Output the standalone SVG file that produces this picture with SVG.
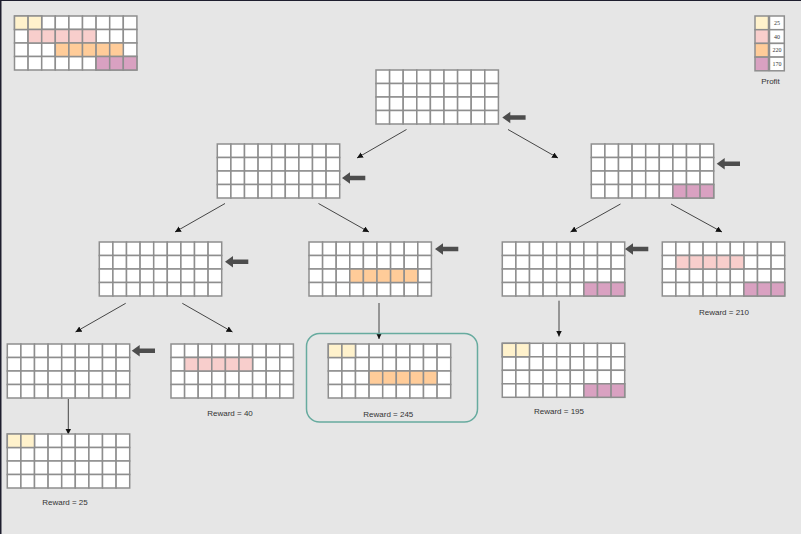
<svg xmlns="http://www.w3.org/2000/svg" xmlns:xlink="http://www.w3.org/1999/xlink" width="801" height="534" viewBox="0 0 801 534">
<style>
.c{stroke:#8e8e8e;stroke-width:1.5}
.w{fill:#ffffff}
.y{fill:#fff2cc}
.p{fill:#f8cecc}
.o{fill:#ffcc99}
.u{fill:#d9a1c1}
.lbl{font-family:"Liberation Sans",Arial,sans-serif;font-size:8px;fill:#333333;text-anchor:middle}
.num{font-family:"Liberation Serif","Times New Roman",serif;font-size:6px;fill:#333333;text-anchor:middle}
.con{stroke:#333333;stroke-width:0.9;fill:none;marker-end:url(#ah)}
.ba{fill:#4d4d4d}
</style>
<defs>
<marker id="ah" markerUnits="userSpaceOnUse" markerWidth="8" markerHeight="8" refX="6" refY="3" orient="auto">
<path d="M0,0 L6,3 L0,6 Z" fill="#111111"/>
</marker>
<polygon id="bigArrow" class="ba" points="0,0 8,-5.7 8,-2.2 23.3,-2.2 23.3,2.2 8,2.2 8,5.7"/>
<g id="grid" class="c w">
<rect x="0" y="0" width="13.6" height="13.5"/><rect x="13.6" y="0" width="13.6" height="13.5"/><rect x="27.2" y="0" width="13.6" height="13.5"/><rect x="40.8" y="0" width="13.6" height="13.5"/><rect x="54.4" y="0" width="13.6" height="13.5"/><rect x="68" y="0" width="13.6" height="13.5"/><rect x="81.6" y="0" width="13.6" height="13.5"/><rect x="95.2" y="0" width="13.6" height="13.5"/><rect x="108.8" y="0" width="13.6" height="13.5"/>
<rect x="0" y="13.5" width="13.6" height="13.5"/><rect x="13.6" y="13.5" width="13.6" height="13.5"/><rect x="27.2" y="13.5" width="13.6" height="13.5"/><rect x="40.8" y="13.5" width="13.6" height="13.5"/><rect x="54.4" y="13.5" width="13.6" height="13.5"/><rect x="68" y="13.5" width="13.6" height="13.5"/><rect x="81.6" y="13.5" width="13.6" height="13.5"/><rect x="95.2" y="13.5" width="13.6" height="13.5"/><rect x="108.8" y="13.5" width="13.6" height="13.5"/>
<rect x="0" y="27" width="13.6" height="13.5"/><rect x="13.6" y="27" width="13.6" height="13.5"/><rect x="27.2" y="27" width="13.6" height="13.5"/><rect x="40.8" y="27" width="13.6" height="13.5"/><rect x="54.4" y="27" width="13.6" height="13.5"/><rect x="68" y="27" width="13.6" height="13.5"/><rect x="81.6" y="27" width="13.6" height="13.5"/><rect x="95.2" y="27" width="13.6" height="13.5"/><rect x="108.8" y="27" width="13.6" height="13.5"/>
<rect x="0" y="40.5" width="13.6" height="13.5"/><rect x="13.6" y="40.5" width="13.6" height="13.5"/><rect x="27.2" y="40.5" width="13.6" height="13.5"/><rect x="40.8" y="40.5" width="13.6" height="13.5"/><rect x="54.4" y="40.5" width="13.6" height="13.5"/><rect x="68" y="40.5" width="13.6" height="13.5"/><rect x="81.6" y="40.5" width="13.6" height="13.5"/><rect x="95.2" y="40.5" width="13.6" height="13.5"/><rect x="108.8" y="40.5" width="13.6" height="13.5"/>
</g>
<g id="yel" class="c y"><rect x="0" y="0" width="13.6" height="13.5"/><rect x="13.6" y="0" width="13.6" height="13.5"/></g>
<g id="pnk" class="c p"><rect x="13.6" y="13.5" width="13.6" height="13.5"/><rect x="27.2" y="13.5" width="13.6" height="13.5"/><rect x="40.8" y="13.5" width="13.6" height="13.5"/><rect x="54.4" y="13.5" width="13.6" height="13.5"/><rect x="68" y="13.5" width="13.6" height="13.5"/></g>
<g id="org" class="c o"><rect x="40.8" y="27" width="13.6" height="13.5"/><rect x="54.4" y="27" width="13.6" height="13.5"/><rect x="68" y="27" width="13.6" height="13.5"/><rect x="81.6" y="27" width="13.6" height="13.5"/><rect x="95.2" y="27" width="13.6" height="13.5"/></g>
<g id="pur" class="c u"><rect x="81.6" y="40.5" width="13.6" height="13.5"/><rect x="95.2" y="40.5" width="13.6" height="13.5"/><rect x="108.8" y="40.5" width="13.6" height="13.5"/></g>
</defs>
<rect x="0" y="0" width="801" height="534" fill="#e6e6e6"/>
<line x1="0.75" y1="0" x2="0.75" y2="534" stroke="#1e1e2e" stroke-width="1.5"/>
<line x1="0" y1="0.5" x2="801" y2="0.5" stroke="#1e1e2e" stroke-width="1"/>

<g id="connectors">
<line class="con" x1="406.5" y1="129.5" x2="357" y2="158"/>
<line class="con" x1="508" y1="129.5" x2="558" y2="158"/>
<line class="con" x1="225" y1="203.5" x2="175" y2="232"/>
<line class="con" x1="318.5" y1="203.5" x2="369" y2="232"/>
<line class="con" x1="620.5" y1="204" x2="570.5" y2="232"/>
<line class="con" x1="671" y1="204" x2="722" y2="232"/>
<line class="con" x1="125.7" y1="303.3" x2="75.5" y2="332"/>
<line class="con" x1="182.3" y1="303.3" x2="232.5" y2="332"/>
<line class="con" x1="379" y1="303" x2="379" y2="339"/>
<line class="con" x1="559" y1="300.7" x2="559" y2="336.5"/>
<line class="con" x1="68.3" y1="399" x2="68.3" y2="434.5"/>
</g>

<g id="statesTopLeft" transform="translate(14.5,16)"><use xlink:href="#grid"/><use xlink:href="#yel"/><use xlink:href="#pnk"/><use xlink:href="#org"/><use xlink:href="#pur"/></g>

<g id="legend">
<rect class="c y" x="755" y="16" width="13.5" height="13.7"/>
<rect class="c p" x="755" y="29.7" width="13.5" height="13.7"/>
<rect class="c o" x="755" y="43.4" width="13.5" height="13.7"/>
<rect class="c u" x="755" y="57.1" width="13.5" height="13.7"/>
<rect class="c w" x="769.5" y="16" width="14.8" height="13.7"/>
<rect class="c w" x="769.5" y="29.7" width="14.8" height="13.7"/>
<rect class="c w" x="769.5" y="43.4" width="14.8" height="13.7"/>
<rect class="c w" x="769.5" y="57.1" width="14.8" height="13.7"/>
<text class="num" x="776.9" y="25">25</text>
<text class="num" x="776.9" y="38.7">40</text>
<text class="num" x="776.9" y="52.4">220</text>
<text class="num" x="776.9" y="66.1">170</text>
<text class="lbl" x="770.5" y="84">Profit</text>
</g>

<g id="root" transform="translate(376,70)"><use xlink:href="#grid"/><use xlink:href="#bigArrow" x="126.3" y="47.5"/></g>
<g id="l1left" transform="translate(217.3,144)"><use xlink:href="#grid"/><use xlink:href="#bigArrow" x="124.7" y="34"/></g>
<g id="l1right" transform="translate(591.3,144)"><use xlink:href="#grid"/><use xlink:href="#pur"/><use xlink:href="#bigArrow" x="125.4" y="19.7"/></g>
<g id="l2a" transform="translate(99.3,242)"><use xlink:href="#grid"/><use xlink:href="#bigArrow" x="125.7" y="19.7"/></g>
<g id="l2b" transform="translate(309,242)"><use xlink:href="#grid"/><use xlink:href="#org"/><use xlink:href="#bigArrow" x="126" y="7"/></g>
<g id="l2c" transform="translate(502.3,242)"><use xlink:href="#grid"/><use xlink:href="#pur"/><use xlink:href="#bigArrow" x="122.7" y="7"/></g>
<g id="l2d" transform="translate(662.3,242)"><use xlink:href="#grid"/><use xlink:href="#pnk"/><use xlink:href="#pur"/><text class="lbl" x="61.7" y="73">Reward = 210</text></g>
<g id="l3a" transform="translate(7.3,344)"><use xlink:href="#grid"/><use xlink:href="#bigArrow" x="124.4" y="6.7"/></g>
<g id="l3b" transform="translate(171,344)"><use xlink:href="#grid"/><use xlink:href="#pnk"/><text class="lbl" x="59" y="72">Reward = 40</text></g>
<g id="l3c">
<rect x="306.5" y="333.5" width="171" height="88.5" rx="13" ry="13" fill="none" stroke="#67ab9f" stroke-width="1.5"/>
<g transform="translate(328.3,344)"><use xlink:href="#grid"/><use xlink:href="#yel"/><use xlink:href="#org"/></g>
<text class="lbl" x="388.3" y="416.5">Reward = 245</text>
</g>
<g id="l3d" transform="translate(502.3,343.3)"><use xlink:href="#grid"/><use xlink:href="#yel"/><use xlink:href="#pur"/><text class="lbl" x="56.7" y="71.2">Reward = 195</text></g>
<g id="l4" transform="translate(7.3,434)"><use xlink:href="#grid"/><use xlink:href="#yel"/><text class="lbl" x="57.7" y="71">Reward = 25</text></g>
</svg>
